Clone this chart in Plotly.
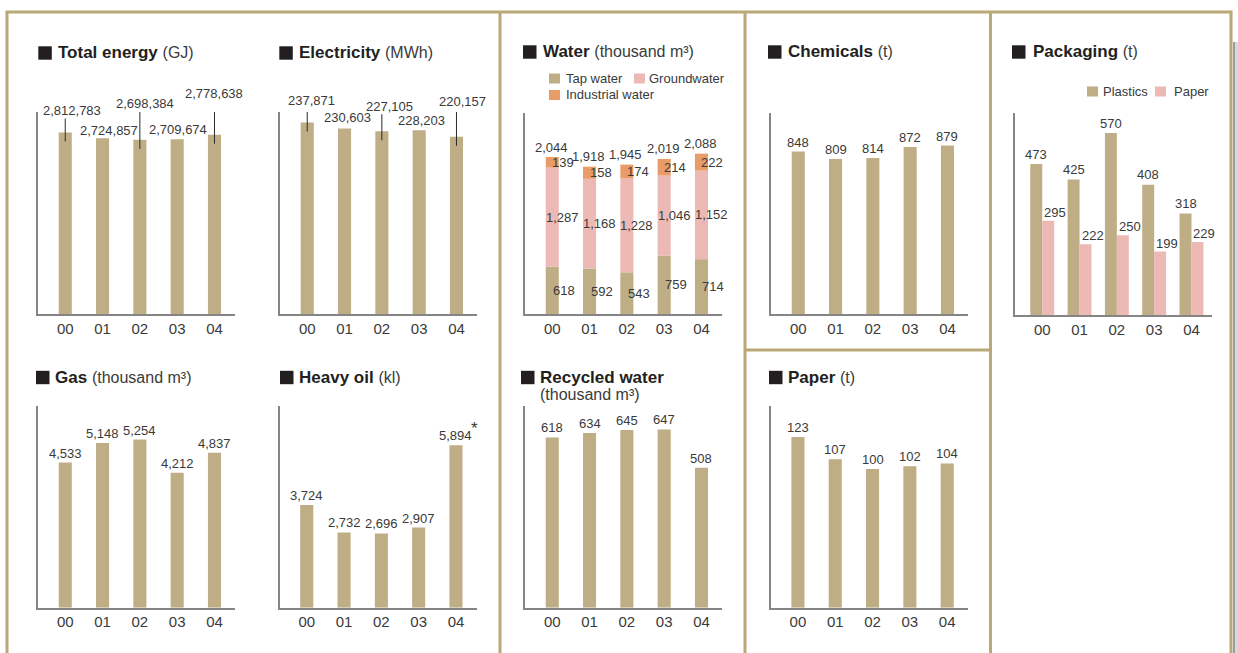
import plotly.graph_objects as go

# ---- data -------------------------------------------------------------
years = ["00", "01", "02", "03", "04"]

total_energy = [2812783, 2724857, 2698384, 2709674, 2778638]      # GJ
electricity = [237871, 230603, 227105, 228203, 220157]            # MWh
gas = [4533, 5148, 5254, 4212, 4837]                              # thousand m3
heavy_oil = [3724, 2732, 2696, 2907, 5894]                        # kl
tap_water = [618, 592, 543, 759, 714]                             # thousand m3
groundwater = [1287, 1168, 1228, 1046, 1152]
industrial_water = [139, 158, 174, 214, 222]
recycled_water = [618, 634, 645, 647, 508]                        # thousand m3
chemicals = [848, 809, 814, 872, 879]                             # t
paper = [123, 107, 100, 102, 104]                                 # t
pack_plastics = [473, 425, 570, 408, 318]                         # t
pack_paper = [295, 222, 250, 199, 229]                            # t

# ---- style ------------------------------------------------------------
W, H = 1238, 653
TAN = "#bead85"
PINK = "#ecb9b5"
ORANGE = "#e99c68"
BORDER = "#baa878"
AXIS = "#858585"
TXT = "#3a3a3a"
DARK = "#231f20"
FONT = "Liberation Sans, Arial, sans-serif"
BAR_W = 0.35
X_RANGE = [-0.73, 4.55]
PANEL_W = 197


def px(x):
    return x / W


def py(y):
    return 1 - y / H


def fmt(v):
    return f"{v:,}"


fig = go.Figure()
layout = dict(
    width=W, height=H, margin=dict(l=0, r=0, t=0, b=0),
    paper_bgcolor="white", plot_bgcolor="rgba(0,0,0,0)",
    showlegend=False, barmode="overlay",
    font=dict(family=FONT, color=TXT),
)
annotations = []
shapes = []

# panel geometry in pixels: axis left, axis top, baseline, y max
panels = {
    "energy": (38, 112, 314, 3.13e6),
    "elec": (280, 112, 314, 2.51e5),
    "water": (525, 113, 314, 2617),
    "chem": (771, 113, 314, 1049),
    "pack": (1015, 113, 315, 633),
    "gas": (38, 405.7, 607.7, 6310),
    "oil": (279.5, 405.7, 607.7, 7330),
    "recyc": (525, 405.7, 607.7, 733),
    "paper": (770.7, 405.7, 607.7, 145.6),
}
axis_ids = {}
for i, (key, (left, top, base, ymax)) in enumerate(panels.items(), start=1):
    sfx = "" if i == 1 else str(i)
    axis_ids[key] = ("x" + sfx, "y" + sfx)
    layout["xaxis" + sfx] = dict(
        domain=[px(left), px(left + PANEL_W)], anchor="y" + sfx,
        range=X_RANGE, tickmode="array", tickvals=list(range(len(years))),
        ticktext=years, showgrid=False, zeroline=False,
        showline=True, linecolor=AXIS, linewidth=1.5, ticks="",
        ticklabelstandoff=0, tickfont=dict(size=15, color=TXT, family=FONT),
        fixedrange=True,
    )
    layout["yaxis" + sfx] = dict(
        domain=[py(base), py(top)], anchor="x" + sfx, range=[0, ymax],
        showgrid=False, zeroline=False, showticklabels=False,
        showline=True, linecolor=AXIS, linewidth=1.5, ticks="",
        fixedrange=True,
    )

xs = list(range(len(years)))


def add_bars(key, values, color, width=BAR_W, offset=None, base=None):
    xa, ya = axis_ids[key]
    kw = dict(x=xs, y=values, marker=dict(color=color, line=dict(width=0)),
              width=width, xaxis=xa, yaxis=ya, hoverinfo="skip")
    if offset is not None:
        kw["offset"] = offset
    if base is not None:
        kw["base"] = base
    fig.add_trace(go.Bar(**kw))


def add_label(key, x, y, text, lift=9.0, xshift=0.0, size=13):
    xa, ya = axis_ids[key]
    annotations.append(dict(
        x=x, y=y, xref=xa, yref=ya, text=text, showarrow=False,
        xanchor="center", yanchor="middle", yshift=lift, xshift=xshift,
        font=dict(size=size, color=TXT, family=FONT),
    ))


def add_leader(key, x, y, down, up):
    xa, ya = axis_ids[key]
    shapes.append(dict(
        type="line", xref=xa, yref=ya, x0=x, x1=x,
        ysizemode="pixel", yanchor=y, y0=-down, y1=up,
        line=dict(color="#2a2a2a", width=1),
    ))


def add_title(sq_x, cy, text, text_x):
    shapes.append(dict(
        type="rect", xref="paper", yref="paper",
        x0=px(sq_x), x1=px(sq_x + 13.5), y0=py(cy + 6.7), y1=py(cy - 6.7),
        fillcolor=DARK, line=dict(width=0),
    ))
    annotations.append(dict(
        x=px(text_x), y=py(cy), xref="paper", yref="paper", text=text,
        showarrow=False, xanchor="left", yanchor="middle", align="left",
        font=dict(size=17, color=DARK, family=FONT),
    ))


def unit(s):
    return f"<span style='font-size:16px;font-weight:normal;fill:#3a3a3a'>{s}</span>"


def add_key(sq_x, cy, color, text, text_x):
    shapes.append(dict(
        type="rect", xref="paper", yref="paper",
        x0=px(sq_x), x1=px(sq_x + 11), y0=py(cy + 5), y1=py(cy - 5),
        fillcolor=color, line=dict(width=0),
    ))
    annotations.append(dict(
        x=px(text_x), y=py(cy), xref="paper", yref="paper", text=text,
        showarrow=False, xanchor="left", yanchor="middle",
        font=dict(size=13, color=TXT, family=FONT),
    ))


# ---- Total energy / Electricity (labels lifted with leader lines) -----
energy_lift = [22, 8, 36, 10, 41]
energy_dx = [7, 6, 5, 1, 0]
elec_lift = [22, 10.5, 25, 9.5, 35]
elec_dx = [4, 3, 8, 2, 6]
leader_idx = [0, 2, 4]

for key, vals, lifts, dxs in (("energy", total_energy, energy_lift, energy_dx),
                              ("elec", electricity, elec_lift, elec_dx)):
    add_bars(key, vals, TAN)
    for k, v in enumerate(vals):
        add_label(key, k, v, fmt(v), lift=lifts[k], xshift=dxs[k])
        if k in leader_idx:
            add_leader(key, k, v, 9, lifts[k] - 8)

# ---- simple single-series panels --------------------------------------
for key, vals in (("gas", gas), ("oil", heavy_oil), ("recyc", recycled_water),
                  ("chem", chemicals), ("paper", paper)):
    add_bars(key, vals, TAN)
    for k, v in enumerate(vals):
        add_label(key, k, v, fmt(v), lift=9.5)

# footnote mark on the last heavy oil value
add_label("oil", 4, heavy_oil[4], "*", lift=17, xshift=18.5, size=17)

# ---- Water (stacked by source) ----------------------------------------
ground_base = tap_water
ind_base = [t + g for t, g in zip(tap_water, groundwater)]
water_total = [b + i for b, i in zip(ind_base, industrial_water)]
add_bars("water", tap_water, TAN)
add_bars("water", groundwater, PINK, base=ground_base)
add_bars("water", industrial_water, ORANGE, base=ind_base)
for k in xs:
    add_label("water", k, tap_water[k] / 2, fmt(tap_water[k]), lift=0, xshift=12)
    add_label("water", k, ground_base[k] + groundwater[k] / 2,
              fmt(groundwater[k]), lift=0, xshift=10)
    add_label("water", k, ind_base[k] + industrial_water[k] / 2,
              fmt(industrial_water[k]), lift=0, xshift=11)
    add_label("water", k, water_total[k], fmt(water_total[k]), lift=10, xshift=-1)

# ---- Packaging (grouped) ----------------------------------------------
PW = 0.32
add_bars("pack", pack_plastics, TAN, width=PW, offset=-PW)
add_bars("pack", pack_paper, PINK, width=PW, offset=0)
for k in xs:
    add_label("pack", k - PW / 2, pack_plastics[k], fmt(pack_plastics[k]), lift=10)
    add_label("pack", k + PW / 2, pack_paper[k], fmt(pack_paper[k]), lift=8.5, xshift=7)

# ---- titles and keys --------------------------------------------------
add_title(38.3, 53, "<b>Total energy</b> " + unit("(GJ)"), 56)
add_title(279.3, 53, "<b>Electricity</b> " + unit("(MWh)"), 296.5)
add_title(523, 52, "<b>Water</b> " + unit("(thousand m³)"), 541)
add_title(768, 52, "<b>Chemicals</b> " + unit("(t)"), 786)
add_title(1012, 52, "<b>Packaging</b> " + unit("(t)"), 1031)
add_title(36, 377.5, "<b>Gas</b> " + unit("(thousand m³)"), 52.5)
add_title(280, 377.5, "<b>Heavy oil</b> " + unit("(kl)"), 296.5)
add_title(521, 377.5, "<b>Recycled water</b>", 537.5)
annotations.append(dict(
    x=px(537.5), y=py(394), xref="paper", yref="paper", text="(thousand m³)",
    showarrow=False, xanchor="left", yanchor="middle",
    font=dict(size=16, color=TXT, family=FONT),
))
add_title(769, 377.5, "<b>Paper</b> " + unit("(t)"), 786)

add_key(549, 78.5, TAN, "Tap water", 564)
add_key(634, 78.5, PINK, "Groundwater", 647)
add_key(549, 95, ORANGE, "Industrial water", 564)
add_key(1087, 91.5, TAN, "Plastics", 1101)
add_key(1155, 91.5, PINK, "Paper", 1172)

# ---- frame lines between the panels -----------------------------------
def frame(x0, y0, x1, y1):
    shapes.append(dict(type="line", xref="paper", yref="paper",
                       x0=px(x0), y0=py(y0), x1=px(x1), y1=py(y1),
                       line=dict(color=BORDER, width=3)))


frame(5.5, 12, 1232.5, 12)
frame(7, 12, 7, 653)
frame(500, 12, 500, 653)
frame(745, 12, 745, 653)
frame(990.5, 12, 990.5, 653)
frame(745, 350, 990.5, 350)
frame(1231, 12, 1231, 653)

# page edge shading at the far right
shapes.append(dict(type="rect", xref="paper", yref="paper",
                   x0=px(1233), x1=px(1235), y0=0, y1=py(42),
                   fillcolor="#9c9c9c", line=dict(width=0)))
shapes.append(dict(type="rect", xref="paper", yref="paper",
                   x0=px(1235), x1=1, y0=0, y1=py(42),
                   fillcolor="#d9d9d9", line=dict(width=0)))

layout["annotations"] = annotations
layout["shapes"] = shapes
fig.update_layout(**layout)
fig.write_html("out.html")
